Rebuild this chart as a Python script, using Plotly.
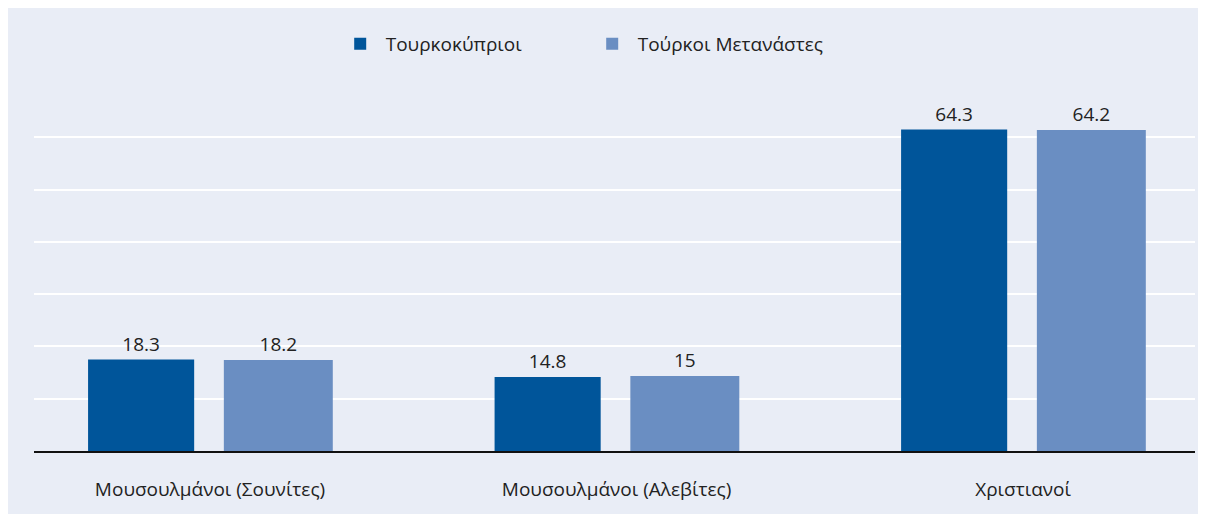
import plotly.graph_objects as go

categories = ["Μουσουλμάνοι (Σουνίτες)", "Μουσουλμάνοι (Αλεβίτες)", "Χριστιανοί"]
series_names = ["Τουρκοκύπριοι", "Τούρκοι Μετανάστες"]
turkish_cypriots = [18.3, 14.8, 64.3]
turkish_migrants = [18.2, 15, 64.2]
value_labels_tc = ["18.3", "14.8", "64.3"]
value_labels_tm = ["18.2", "15", "64.2"]

BG = "#e9edf6"
DARK = "#00559a"
LIGHT = "#6a8ec2"
TEXT = "#222222"
FONT = "Open Sans, Noto Sans, sans-serif"
FS = 19

W, H = 1206, 514
L, R, T, B = 26, 19, 77, 71
YMAX = 73.2
grid_vals = [YMAX * k / 7 for k in range(1, 7)]

fig = go.Figure()
fig.add_trace(go.Bar(
    x=categories, y=turkish_cypriots, name=series_names[0],
    marker=dict(color=DARK, line=dict(width=0)),
    width=0.261, offset=-0.300,
    text=value_labels_tc, textposition="outside", cliponaxis=False,
    textfont=dict(size=FS, color=TEXT, family=FONT),
))
fig.add_trace(go.Bar(
    x=categories, y=turkish_migrants, name=series_names[1],
    marker=dict(color=LIGHT, line=dict(width=0)),
    width=0.268, offset=0.034,
    text=value_labels_tm, textposition="outside", cliponaxis=False,
    textfont=dict(size=FS, color=TEXT, family=FONT),
))

fig.update_layout(
    width=W, height=H,
    margin=dict(l=L, r=R, t=T, b=B, pad=0),
    paper_bgcolor=BG, plot_bgcolor=BG,
    font=dict(family=FONT, size=FS, color=TEXT),
    barmode="overlay",
    showlegend=True,
    legend=dict(
        orientation="h", x=0.259, xanchor="left", y=1.112, yanchor="middle",
        font=dict(size=FS, color=TEXT, family=FONT),
        itemwidth=41, traceorder="normal",
        bgcolor="rgba(0,0,0,0)", entrywidthmode="pixels", entrywidth=196,
    ),
    xaxis=dict(
        type="category", range=[-0.433, 2.423],
        showgrid=False, zeroline=False,
        showline=True, linecolor="#111111", linewidth=1.5,
        ticks="outside", ticklen=20, tickcolor="rgba(0,0,0,0)",
        tickfont=dict(size=FS, color=TEXT, family=FONT),
        fixedrange=True,
    ),
    yaxis=dict(
        range=[0, YMAX], tickmode="array", tickvals=grid_vals,
        showticklabels=False, showgrid=True, gridcolor="#ffffff", gridwidth=1.5,
        zeroline=False, showline=False, ticks="",
        fixedrange=True,
    ),
)

fig.write_html("out.html")
